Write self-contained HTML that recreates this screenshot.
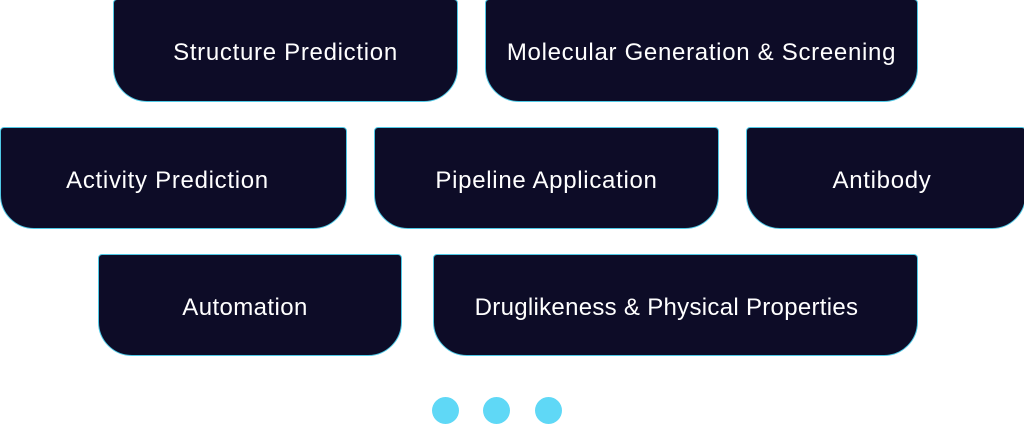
<!DOCTYPE html><html><head><style>
body{margin:0;width:1024px;height:424px;background:#fff;position:relative;overflow:hidden;font-family:"Liberation Sans",sans-serif}
.b{position:absolute;box-sizing:border-box;background:#0d0c27;border:1.5px solid #4fc9e6;border-radius:4px 4px 34px 34px;color:#fff;font-size:24px;letter-spacing:0.7px;display:flex;align-items:center;justify-content:center;height:102px;padding-top:5px}
.d{position:absolute;width:27px;height:27px;border-radius:50%;background:#5fd8f6;top:397px}
</style></head><body>
<div class="b" style="left:113px;top:-1px;width:345px;height:103px">Structure Prediction</div>
<div class="b" style="left:485px;top:-1px;width:433px;height:103px">Molecular Generation &amp; Screening</div>
<div class="b" style="left:0;top:127px;width:347px;padding-right:12px">Activity Prediction</div>
<div class="b" style="left:374px;top:127px;width:345px">Pipeline Application</div>
<div class="b" style="left:746px;top:127px;width:280px;padding-right:8px">Antibody</div>
<div class="b" style="left:98px;top:254px;width:304px;padding-right:10px;letter-spacing:0.4px">Automation</div>
<div class="b" style="left:433px;top:254px;width:485px;padding-right:18px;letter-spacing:0.3px">Druglikeness &amp; Physical Properties</div>
<div class="d" style="left:432px"></div><div class="d" style="left:483px"></div><div class="d" style="left:535px"></div>
</body></html>
